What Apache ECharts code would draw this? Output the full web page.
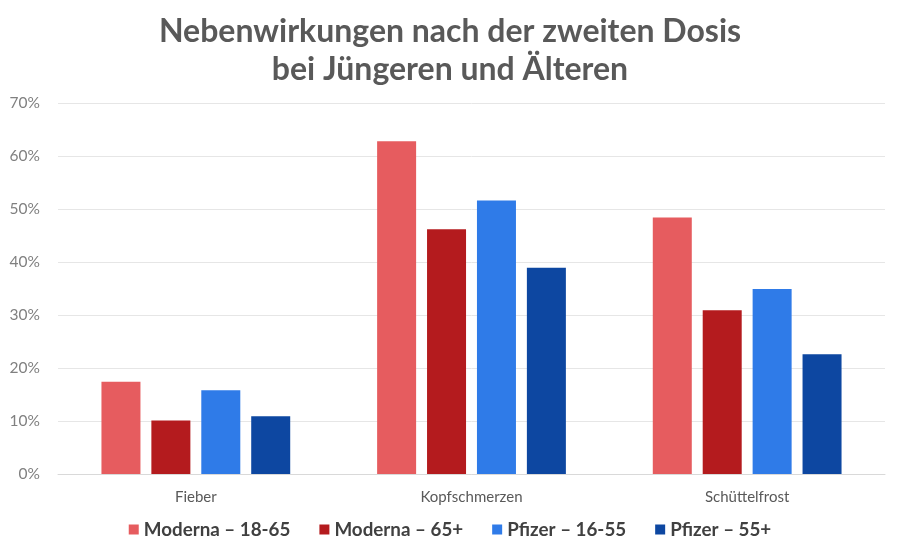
<!DOCTYPE html>
<html>
<head>
<meta charset="utf-8">
<script src="https://cdn.jsdelivr.net/npm/echarts@6/dist/echarts.min.js"></script>
<style>html,body{margin:0;padding:0;background:#fff;}#c{width:900px;height:555px;}</style>
</head>
<body>
<div id="c"></div>
<script>
const categories = ['Fieber', 'Kopfschmerzen', 'Schüttelfrost'];
const seriesNames = ['Moderna – 18-65', 'Moderna – 65+', 'Pfizer – 16-55', 'Pfizer – 55+'];
const moderna1865 = [17.4, 62.8, 48.4];
const moderna65 = [10.1, 46.2, 30.9];
const pfizer1655 = [15.8, 51.6, 34.9];
const pfizer55 = [10.9, 38.9, 22.6];
const colors = ['#E65C5F', '#B41B1E', '#2F7BE8', '#0D47A1'];
const yTicks = [0, 10, 20, 30, 40, 50, 60, 70];

const values = [moderna1865, moderna65, pfizer1655, pfizer55];
const chart = echarts.init(document.getElementById('c'));
chart.setOption({
  backgroundColor: '#fff',
  animation: false,
  title: {
    text: 'Nebenwirkungen nach der zweiten Dosis\nbei Jüngeren und Älteren',
    left: 'center',
    top: 8,
    textStyle: {fontFamily: 'Lato', fontWeight: 'bold', fontSize: 32, color: '#595959', lineHeight: 38}
  },
  legend: {
    bottom: 11,
    left: 'center',
    itemWidth: 10,
    itemHeight: 10,
    itemGap: 29,
    icon: 'rect',
    textStyle: {fontFamily: 'Lato', fontWeight: 'bold', fontSize: 18.8, color: '#404040'},
    data: seriesNames
  },
  grid: {left: 58, right: 15, top: 103, bottom: 81},
  xAxis: {
    type: 'category',
    data: categories,
    axisLine: {lineStyle: {color: '#d9d9d9'}},
    axisTick: {show: false},
    axisLabel: {fontFamily: 'Lato', fontSize: 15, color: '#595959', margin: 16}
  },
  yAxis: {
    type: 'value',
    min: yTicks[0],
    max: yTicks[yTicks.length - 1],
    interval: 10,
    axisLine: {show: false},
    axisTick: {show: false},
    splitLine: {lineStyle: {color: '#e6e6e6'}},
    axisLabel: {fontFamily: 'Lato', fontSize: 15.5, color: '#808080', formatter: '{value}%', margin: 18}
  },
  series: seriesNames.map((n, i) => ({
    name: n,
    type: 'bar',
    data: values[i],
    barWidth: 39,
    barGap: '28%',
    itemStyle: {color: colors[i]}
  }))
});
</script>
</body>
</html>
